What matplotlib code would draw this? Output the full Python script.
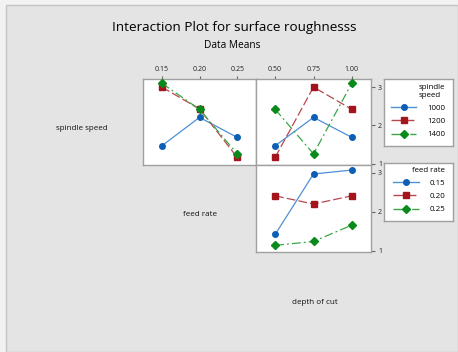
import matplotlib
matplotlib.use("Agg")
import matplotlib.pyplot as plt
from matplotlib.lines import Line2D
from matplotlib.patches import Rectangle

plt.rcParams["font.family"] = ["Open Sans", "DejaVu Sans"]

# ---- data ----
feed_levels = ["0.15", "0.20", "0.25"]
depth_levels = ["0.50", "0.75", "1.00"]
spindle_levels = ["1000", "1200", "1400"]

# spindle speed traces vs feed rate
sp_vs_feed_1000 = [1.47, 2.21, 1.69]
sp_vs_feed_1200 = [3.00, 2.43, 1.17]
sp_vs_feed_1400 = [3.10, 2.42, 1.26]

# spindle speed traces vs depth of cut
sp_vs_depth_1000 = [1.47, 2.21, 1.69]
sp_vs_depth_1200 = [1.17, 3.00, 2.42]
sp_vs_depth_1400 = [2.42, 1.26, 3.10]

# feed rate traces vs depth of cut
fr_vs_depth_015 = [1.42, 2.97, 3.07]
fr_vs_depth_020 = [2.41, 2.20, 2.41]
fr_vs_depth_025 = [1.14, 1.24, 1.66]

yticks = [1, 2, 3]

# ---- style ----
W, H = 458, 352
fig = plt.figure(figsize=(W / 100, H / 100), dpi=100)
fig.patch.set_facecolor("#f2f2f2")
fig.add_artist(Rectangle((6 / W, 0), 1 - 6 / W, 1 - 5 / H, transform=fig.transFigure,
                         facecolor="#e4e4e4", edgecolor="#c4c4c4", lw=1.0, zorder=0))

line_cols = ["#4f8fd6", "#b8474d", "#3aa547"]
mark_cols = ["#0d5fb5", "#a3141c", "#0a8a1a"]
markers = ["o", "s", "D"]
lstyles = ["-", (0, (7, 2.5)), (0, (7, 2.5, 1.5, 2.5))]
msizes = [4, 4, 4.2]


def px_axes(l, r, t, b):
    return fig.add_axes([l / W, 1 - b / H, (r - l) / W, (b - t) / H])


def style_panel(ax, ylim):
    ax.set_facecolor("white")
    ax.set_xlim(0.5, 3.5)
    ax.set_ylim(*ylim)
    for s in ax.spines.values():
        s.set_color("#a0a0a0")
        s.set_linewidth(1.0)
    ax.tick_params(axis="both", which="both", length=0, labelsize=5,
                   labelbottom=False, labelleft=False, labeltop=False, labelright=False,
                   colors="#222222")


def draw(ax, series):
    x = [1, 2, 3]
    for i, ys in enumerate(series):
        ax.plot(x, ys, color=line_cols[i], lw=0.9, ls=lstyles[i], marker=markers[i],
                ms=msizes[i], mfc=mark_cols[i], mec=mark_cols[i], zorder=3)


ylim_top = (0.97, 3.21)
ylim_bot = (0.97, 3.2)

ax1 = px_axes(143, 256, 79, 165)
ax2 = px_axes(256, 371, 79, 165)
ax3 = px_axes(256, 371, 165, 252)
for a in (ax1, ax2):
    style_panel(a, ylim_top)
style_panel(ax3, ylim_bot)

draw(ax1, [sp_vs_feed_1000, sp_vs_feed_1200, sp_vs_feed_1400])
draw(ax2, [sp_vs_depth_1000, sp_vs_depth_1200, sp_vs_depth_1400])
draw(ax3, [fr_vs_depth_015, fr_vs_depth_020, fr_vs_depth_025])

for a, labs in ((ax1, feed_levels), (ax2, depth_levels)):
    a.xaxis.set_ticks_position("top")
    a.set_xticks([1, 2, 3])
    a.set_xticklabels(labs)
    a.tick_params(axis="x", labeltop=True, top=True, length=2.5, pad=1.5, color="#666666")
ax1.set_yticks([])
for a in (ax2, ax3):
    a.yaxis.set_ticks_position("right")
    a.set_yticks(yticks)
    a.set_yticklabels([str(v) for v in yticks])
    a.tick_params(axis="y", labelright=True, right=True, length=3, pad=2, color="#666666")
ax3.set_xticks([])

# titles and diagonal labels
fig.text(234 / W, 1 - 28 / H, "Interaction Plot for surface roughnesss", ha="center", va="center",
         fontsize=9.7, color="#000000")
fig.text(232 / W, 1 - 45 / H, "Data Means", ha="center", va="center", fontsize=7.3, color="#000000")
fig.text(82 / W, 1 - 128 / H, "spindle speed", ha="center", va="center", fontsize=5.8, color="#111111")
fig.text(200 / W, 1 - 215 / H, "feed rate", ha="center", va="center", fontsize=5.8, color="#111111")
fig.text(315 / W, 1 - 303 / H, "depth of cut", ha="center", va="center", fontsize=5.8, color="#111111")


def make_handles():
    return [Line2D([0], [0], color=line_cols[i], ls=lstyles[i], lw=1.0, marker=markers[i],
                   ms=msizes[i], mfc=mark_cols[i], mec=mark_cols[i]) for i in range(3)]


def add_legend(title, labels, l, r, t, b, spacing):
    lax = px_axes(l, r, t, b)
    lax.set_facecolor("white")
    lax.set_xticks([])
    lax.set_yticks([])
    for s in lax.spines.values():
        s.set_color("#a0a0a0")
        s.set_linewidth(1.0)
    leg = lax.legend(make_handles(), labels, title=title, loc="lower right", frameon=False,
                     fontsize=5.7, title_fontsize=5.7, handlelength=3.2, handletextpad=1.4,
                     labelspacing=spacing, borderpad=0.45, alignment="right")
    for t_ in leg.get_texts():
        t_.set_ha("right")
    return lax


add_legend("spindle\nspeed", spindle_levels, 384, 453, 79, 146, 0.72)
add_legend("feed rate", feed_levels, 384, 453, 163, 221, 0.72)

fig.savefig("out.png", dpi=100, facecolor=fig.get_facecolor())
